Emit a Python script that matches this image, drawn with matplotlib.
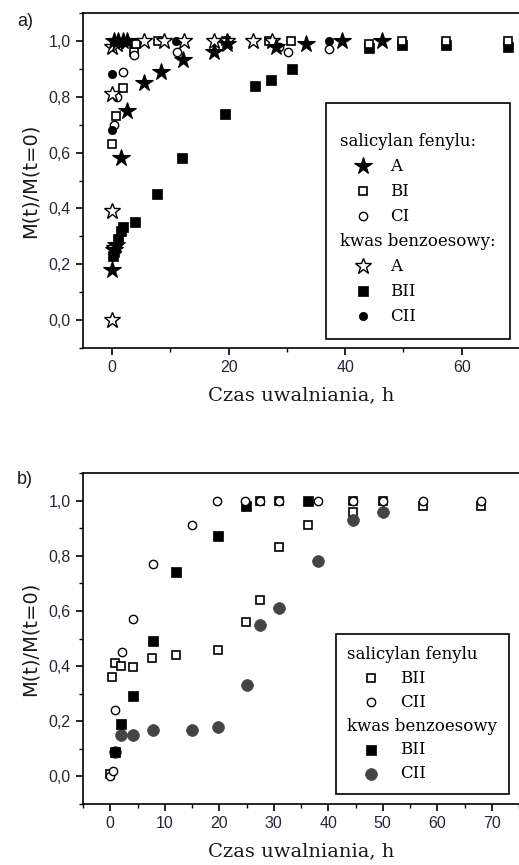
import matplotlib
matplotlib.use('Agg')
import matplotlib.pyplot as plt
from matplotlib.lines import Line2D
from matplotlib.offsetbox import AnchoredOffsetbox, VPacker, HPacker, TextArea, DrawingArea
from matplotlib.ticker import MultipleLocator, FuncFormatter

# ---- dane: wykres a) ----
sal_A_t = [0, 0.3, 0.6, 1.5, 2.6, 5.4, 8.4, 12.1, 17.5, 0.3, 1.0, 1.8, 2.6, 19.7, 28.1, 33.3, 39.5, 46.4]
sal_A_y = [0.18, 0.25, 0.27, 0.58, 0.75, 0.85, 0.89, 0.93, 0.96, 1.0, 1.0, 1.0, 1.0, 0.99, 0.98, 0.99, 1.0, 1.0]
sal_BI_t = [0, 0.7, 1.9, 3.8, 4.1, 7.8, 19.5, 27.0, 30.7, 44.1, 49.8, 57.3, 67.9]
sal_BI_y = [0.63, 0.73, 0.83, 0.96, 0.99, 1.0, 1.0, 1.0, 1.0, 0.99, 1.0, 1.0, 1.0]
sal_CI_t = [0.3, 0.9, 1.8, 3.8, 11.2, 28.7, 30.1, 37.3]
sal_CI_y = [0.70, 0.80, 0.89, 0.95, 0.96, 0.98, 0.96, 0.97]
kw_A_t = [0, 0, 0.3, 0, 0, 0.8, 5.5, 8.9, 12.4, 17.5, 19.7, 24.1, 27.5]
kw_A_y = [0.0, 0.39, 0.26, 0.81, 0.98, 0.99, 1.0, 1.0, 1.0, 1.0, 1.0, 1.0, 1.0]
kw_BII_t = [0.2, 0.5, 1.0, 1.5, 1.8, 3.9, 7.7, 12.0, 19.3, 24.5, 27.2, 30.8, 44.1, 49.8, 57.3, 67.9]
kw_BII_y = [0.23, 0.26, 0.29, 0.32, 0.335, 0.35, 0.45, 0.58, 0.74, 0.84, 0.86, 0.90, 0.975, 0.985, 0.985, 0.98]
kw_CII_t = [0, 0, 0.5, 10.9, 37.3]
kw_CII_y = [0.68, 0.88, 1.0, 1.0, 1.0]

# ---- dane: wykres b) ----
b_sal_BII_t = [0, 0.3, 0.9, 2.0, 4.1, 7.7, 12.0, 19.8, 24.9, 27.4, 27.4, 31.0, 31.0, 36.3, 44.5, 44.5, 50.0, 57.4, 68.0]
b_sal_BII_y = [0.01, 0.36, 0.41, 0.40, 0.395, 0.43, 0.44, 0.46, 0.56, 0.64, 1.0, 0.83, 1.0, 0.91, 0.96, 1.0, 1.0, 0.98, 0.98]
b_sal_CII_t = [0, 0.5, 0.9, 2.1, 4.1, 7.8, 15.0, 19.6, 24.7, 27.4, 31.0, 38.2, 44.5, 50.0, 57.4, 68.0]
b_sal_CII_y = [0.0, 0.02, 0.24, 0.45, 0.57, 0.77, 0.91, 1.0, 1.0, 1.0, 1.0, 1.0, 1.0, 1.0, 1.0, 1.0]
b_kw_BII_t = [0.9, 2.0, 4.1, 7.8, 12.0, 19.7, 24.9, 36.3]
b_kw_BII_y = [0.09, 0.19, 0.29, 0.49, 0.74, 0.87, 0.98, 1.0]
b_kw_CII_t = [0.9, 2.0, 4.1, 7.8, 15.0, 19.8, 25.0, 27.5, 31.0, 38.2, 44.5, 50.0]
b_kw_CII_y = [0.09, 0.15, 0.15, 0.17, 0.17, 0.18, 0.33, 0.55, 0.61, 0.78, 0.93, 0.96]

SANS = 'Liberation Sans'
SERIF = 'DejaVu Serif'
TICK_COL = '#26263a'
GRAY = '#444444'

# style markerów
st_starF = dict(marker='*', markersize=13, mfc='black', mec='black', mew=0.8)
st_starO = dict(marker='*', markersize=12, mfc='white', mec='black', mew=1.0)
st_sqO = dict(marker='s', markersize=6, mfc='white', mec='black', mew=1.2)
st_sqF = dict(marker='s', markersize=6.5, mfc='black', mec='black', mew=0.5)
st_cO = dict(marker='o', markersize=6, mfc='white', mec='black', mew=1.0)
st_cF = dict(marker='o', markersize=6, mfc='black', mec='black', mew=0.5)
st_cG = dict(marker='o', markersize=8.5, mfc=GRAY, mec=GRAY, mew=0.5)


def style_axes(ax, xmax, xmaj, xmin):
    ax.set_xlim(-5, xmax)
    ax.set_ylim(-0.1, 1.1)
    ax.xaxis.set_major_locator(MultipleLocator(xmaj))
    ax.xaxis.set_minor_locator(MultipleLocator(xmin))
    ax.yaxis.set_major_locator(MultipleLocator(0.2))
    ax.yaxis.set_minor_locator(MultipleLocator(0.1))
    ax.yaxis.set_major_formatter(FuncFormatter(lambda v, p: f'{v:.1f}'.replace('.', ',').replace('-0,0', '0,0')))
    ax.tick_params(which='major', direction='out', length=5, width=1.2, labelsize=11.5,
                   colors='black', labelcolor=TICK_COL, pad=4)
    ax.tick_params(which='minor', direction='out', length=3, width=1.0)
    for lab in ax.get_xticklabels() + ax.get_yticklabels():
        lab.set_family(SANS)
    for s in ['left', 'bottom', 'top']:
        ax.spines[s].set_linewidth(1.2)
    ax.spines['right'].set_visible(False)
    ax.set_xlabel('Czas uwalniania, h', family=SERIF, fontsize=14, labelpad=8, color='#1a1a1a')
    ax.set_ylabel('M(t)/M(t=0)', family='DejaVu Sans', fontsize=14, labelpad=6, color='#1a1a1a')


def make_legend(ax, groups, anchor, mark_x, da_w, sep, pad, top_gap):
    rows = []
    if top_gap > 0:
        rows.append(DrawingArea(1, top_gap, 0, 0))
    for header, items in groups:
        rows.append(TextArea(header, textprops=dict(family=SERIF, fontsize=12)))
        for st, lab in items:
            da = DrawingArea(da_w, 10, 0, 0)
            da.add_artist(Line2D([mark_x], [5], linestyle='none', **st))
            rows.append(HPacker(children=[da, TextArea(lab, textprops=dict(family=SERIF, fontsize=12))],
                                align='center', pad=0, sep=0))
    box = VPacker(children=rows, align='left', pad=0, sep=sep)
    ab = AnchoredOffsetbox(loc='lower right', child=box, pad=pad, borderpad=0,
                           bbox_to_anchor=anchor, bbox_transform=ax.transAxes,
                           frameon=True, prop=dict(size=12))
    ab.patch.set_boxstyle('square', pad=0)
    ab.patch.set_edgecolor('black')
    ab.patch.set_linewidth(1.2)
    ax.add_artist(ab)


fig = plt.figure(figsize=(5.19, 8.65), dpi=100)

# ---- a) ----
ax1 = fig.add_axes([83 / 519, 1 - 348 / 865, 437 / 519, 335 / 865])
ax1.plot(kw_BII_t, kw_BII_y, linestyle='none', **st_sqF)
ax1.plot(sal_BI_t, sal_BI_y, linestyle='none', **st_sqO)
ax1.plot(sal_CI_t, sal_CI_y, linestyle='none', **st_cO)
ax1.plot(kw_CII_t, kw_CII_y, linestyle='none', **st_cF)
ax1.plot(kw_A_t, kw_A_y, linestyle='none', **st_starO)
ax1.plot(sal_A_t, sal_A_y, linestyle='none', **st_starF)
style_axes(ax1, 70, 20, 10)
make_legend(ax1,
            [('salicylan fenylu:', [(st_starF, 'A'), (st_sqO, 'BI'), (st_cO, 'CI')]),
             ('kwas benzoesowy:', [(st_starO, 'A'), (st_sqF, 'BII'), (st_cF, 'CII')])],
            (0.976, 0.027), 17, 36, 5.75, 0.85, 5.6)
fig.text(17 / 519, 1 - 21 / 865, 'a)', family=SANS, fontsize=13, va='center', color='#1a1a1a')

# ---- b) ----
ax2 = fig.add_axes([83 / 519, 1 - 804 / 865, 436 / 519, 331 / 865])
ax2.plot(b_sal_BII_t, b_sal_BII_y, linestyle='none', **st_sqO)
ax2.plot(b_kw_CII_t, b_kw_CII_y, linestyle='none', **st_cG)
ax2.plot(b_kw_BII_t, b_kw_BII_y, linestyle='none', **st_sqF)
ax2.plot(b_sal_CII_t, b_sal_CII_y, linestyle='none', **st_cO)
style_axes(ax2, 75, 10, 5)
make_legend(ax2,
            [('salicylan fenylu', [(st_sqO, 'BII'), (st_cO, 'CII')]),
             ('kwas benzoesowy', [(st_sqF, 'BII'), (st_cG, 'CII')])],
            (0.977, 0.030), 17.3, 38, 5.0, 0.7, 0)
fig.text(17 / 519, 1 - 480 / 865, 'b)', family=SANS, fontsize=13, va='center', color='#1a1a1a')

fig.savefig('out.png', dpi=100)
